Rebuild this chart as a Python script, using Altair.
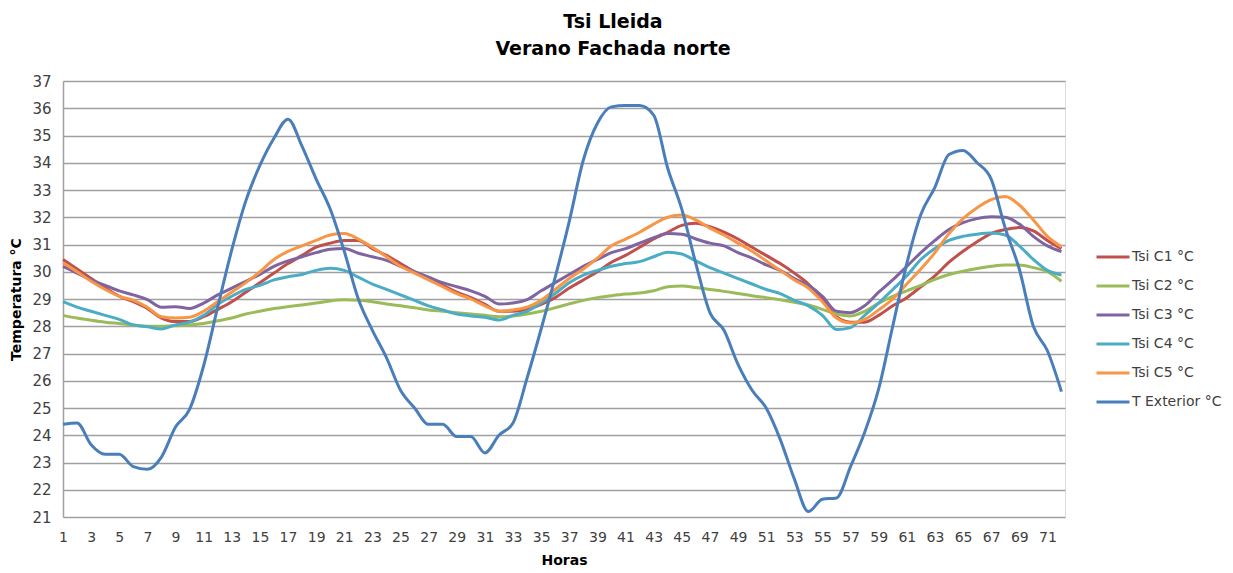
import altair as alt
import pandas as pd

hours = list(range(1, 73))

series_names = ["Tsi C1 °C", "Tsi C2 °C", "Tsi C3 °C", "Tsi C4 °C", "Tsi C5 °C", "T Exterior °C"]
colors = ["#C0504D", "#9BBB59", "#8064A2", "#4BACC6", "#F79646", "#4A7EBB"]

tsi_c1 = [30.45, 30.1, 29.75, 29.4, 29.1, 28.9, 28.65, 28.3, 28.17, 28.17,
          28.35, 28.62, 28.9, 29.25, 29.6, 29.95, 30.3, 30.6, 30.9, 31.05,
          31.15, 31.15, 30.85, 30.6, 30.3, 30.0, 29.75, 29.5, 29.25, 29.05,
          28.8, 28.55, 28.55, 28.62, 28.8, 29.05, 29.4, 29.7, 30.0, 30.35,
          30.6, 30.9, 31.2, 31.45, 31.7, 31.78, 31.65, 31.45, 31.2, 30.9,
          30.6, 30.3, 29.95, 29.55, 29.0, 28.35, 28.15, 28.15, 28.4, 28.75,
          29.05, 29.45, 29.85, 30.35, 30.75, 31.1, 31.4, 31.55, 31.62, 31.5,
          31.15, 30.85]

tsi_c2 = [28.4, 28.3, 28.22, 28.15, 28.1, 28.05, 28.0, 28.0, 28.02, 28.05,
          28.1, 28.2, 28.3, 28.45, 28.55, 28.65, 28.72, 28.78, 28.85, 28.93,
          28.97, 28.95, 28.9, 28.82, 28.75, 28.68, 28.6, 28.55, 28.5, 28.45,
          28.4, 28.35, 28.38, 28.45, 28.55, 28.68, 28.82, 28.95, 29.05, 29.12,
          29.18, 29.22, 29.3, 29.45, 29.48, 29.42, 29.35, 29.28, 29.2, 29.12,
          29.05, 28.97, 28.88, 28.78, 28.62, 28.45, 28.38, 28.55, 28.85, 29.1,
          29.3, 29.5, 29.72, 29.9, 30.02, 30.12, 30.2, 30.25, 30.25, 30.15,
          30.0, 29.65]

tsi_c3 = [30.2, 29.95, 29.7, 29.5, 29.3, 29.15, 28.98, 28.7, 28.72, 28.65,
          28.85, 29.15, 29.4, 29.65, 29.9, 30.2, 30.4, 30.55, 30.7, 30.83,
          30.85, 30.68, 30.55, 30.42, 30.2, 30.0, 29.8, 29.6, 29.45, 29.3,
          29.1, 28.82, 28.85, 28.98, 29.3, 29.6, 29.9, 30.2, 30.45, 30.7,
          30.85, 31.05, 31.25, 31.4, 31.38, 31.2, 31.05, 30.95, 30.7, 30.5,
          30.25, 30.05, 29.75, 29.5, 29.1, 28.55, 28.5, 28.75, 29.25, 29.7,
          30.2, 30.7, 31.15, 31.55, 31.8, 31.95, 32.02, 32.0, 31.75, 31.3,
          30.95, 30.74]

tsi_c4 = [28.9, 28.7, 28.55, 28.4, 28.25, 28.05, 27.98, 27.9, 28.05, 28.15,
          28.4, 28.8, 29.1, 29.35, 29.5, 29.7, 29.82, 29.9, 30.05, 30.13,
          30.05, 29.8, 29.55, 29.35, 29.15, 28.95, 28.75, 28.6, 28.45, 28.38,
          28.33, 28.23, 28.4, 28.55, 28.85, 29.2, 29.6, 29.88, 30.05, 30.2,
          30.3, 30.37, 30.55, 30.72, 30.65, 30.4, 30.15, 29.95, 29.75, 29.55,
          29.35, 29.2, 28.95, 28.75, 28.4, 27.88, 27.95, 28.4, 28.85, 29.35,
          29.85, 30.45, 30.85, 31.15, 31.3, 31.38, 31.42, 31.35, 30.95, 30.45,
          30.05, 29.88]

tsi_c5 = [30.33, 30.0, 29.65, 29.35, 29.1, 28.95, 28.7, 28.35, 28.3, 28.33,
          28.55, 28.9, 29.25, 29.6, 30.0, 30.45, 30.75, 30.95, 31.15, 31.35,
          31.4, 31.2, 30.9, 30.55, 30.2, 29.95, 29.7, 29.45, 29.2, 29.0,
          28.75, 28.55, 28.6, 28.7, 28.95, 29.35, 29.75, 30.1, 30.5, 30.95,
          31.2, 31.45, 31.75, 32.0, 32.08, 31.9, 31.6, 31.35, 31.05, 30.75,
          30.4, 30.05, 29.7, 29.4, 28.9, 28.3, 28.12, 28.25, 28.6, 29.0,
          29.55, 30.1, 30.7, 31.4, 31.95, 32.35, 32.65, 32.76, 32.45, 31.9,
          31.3, 30.92]

t_exterior = [24.4, 24.45, 23.65, 23.3, 23.3, 22.85, 22.75, 23.2, 24.3, 24.95,
              26.55, 28.7, 30.8, 32.6, 33.9, 34.9, 35.6, 34.6, 33.4, 32.3,
              30.75, 29.0, 27.85, 26.85, 25.65, 25.0, 24.4, 24.4, 23.95, 23.95,
              23.35, 24.0, 24.45, 26.1, 27.9, 29.8, 31.85, 34.1, 35.45, 36.05,
              36.1, 36.1, 35.75, 33.8, 32.3, 30.3, 28.5, 27.85, 26.6, 25.65,
              25.0, 23.85, 22.4, 21.2, 21.65, 21.7, 22.85, 24.1, 25.7, 28.0,
              30.3, 32.1, 33.1, 34.3, 34.45, 34.0, 33.4, 31.6, 30.1, 28.0,
              27.1, 25.6]

x_tick_labels = list(range(1, 72, 2))
y_tick_labels = list(range(21, 38))

all_series = [tsi_c1, tsi_c2, tsi_c3, tsi_c4, tsi_c5, t_exterior]
rows = []
for name, vals in zip(series_names, all_series):
    for h, v in zip(hours, vals):
        rows.append({"hora": h, "serie": name, "temp": v})
df = pd.DataFrame(rows)

FONT = "DejaVu Sans"

chart = alt.Chart(df).mark_line(strokeWidth=3, interpolate="monotone").encode(
    x=alt.X("hora:Q",
            scale=alt.Scale(domain=[1, 72.25], nice=False, zero=False),
            axis=alt.Axis(values=x_tick_labels, title="Horas", grid=False, ticks=False,
                          domain=False, labelPadding=13, labelFlush=False, labelOverlap=False,
                          labelFontSize=14, labelColor="#404040", labelFont=FONT,
                          titleFontSize=14, titleFontWeight="bold", titleFont=FONT,
                          titleColor="#000000", titlePadding=9)),
    y=alt.Y("temp:Q",
            scale=alt.Scale(domain=[21, 37], nice=False, zero=False),
            axis=alt.Axis(values=y_tick_labels, title="Temperatura °C", grid=True,
                          gridColor="#a0a0a0", gridWidth=1.5, ticks=False,
                          domain=True, domainColor="#a0a0a0", domainWidth=1.5,
                          labelPadding=12, labelFontSize=15, labelColor="#404040",
                          labelFont=FONT, titleFontSize=14, titleFontWeight="bold",
                          titleFont=FONT, titleColor="#000000", titlePadding=8)),
    color=alt.Color("serie:N",
                    scale=alt.Scale(domain=series_names, range=colors),
                    sort=series_names,
                    legend=alt.Legend(title=None, orient="none", legendX=1032, legendY=158,
                                      symbolType="stroke", symbolSize=1089,
                                      symbolStrokeWidth=3, labelFontSize=14,
                                      labelFont=FONT, labelColor="#404040",
                                      labelOffset=1, rowPadding=4)),
).properties(
    width=1002,
    height=436,
    title=alt.TitleParams(text=["Tsi Lleida", "Verano Fachada norte"], fontSize=19,
                          fontWeight="bold", font=FONT, color="#000000",
                          anchor="middle", dx=49, offset=15, lineHeight=27),
    autosize=alt.AutoSizeParams(type="none"),
    padding={"left": 55, "top": 73, "right": 160, "bottom": 50},
).configure_view(stroke=None).configure(background="white")

chart.save("out.html", embed_options={"renderer": "svg", "actions": False})
